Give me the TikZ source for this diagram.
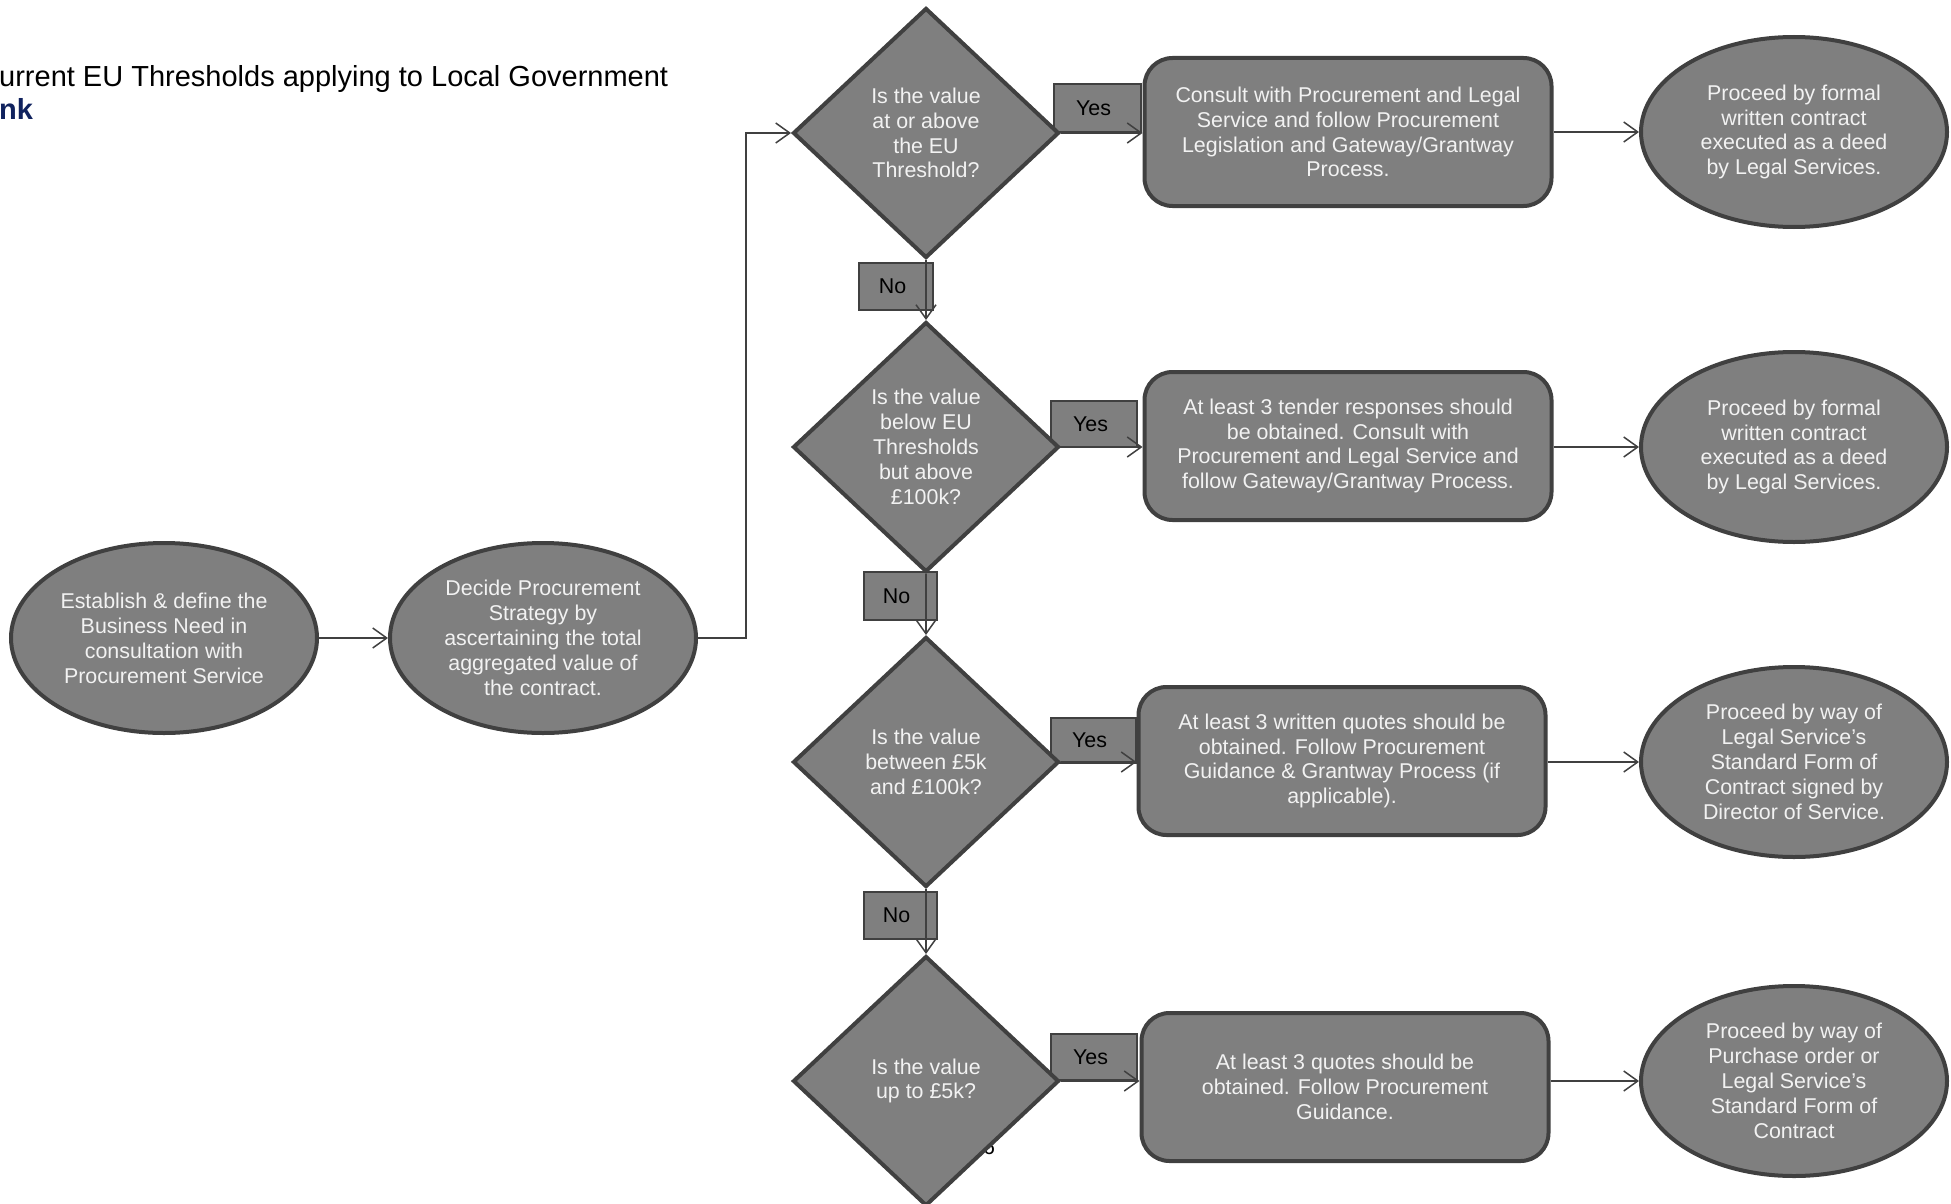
\documentclass[tikz,border=0pt]{standalone}
\usepackage{fontspec}
\setmainfont{Liberation Sans}
\usetikzlibrary{shapes.geometric,arrows.meta}
\definecolor{fillg}{HTML}{7F7F7F}
\definecolor{bord}{HTML}{404040}
\definecolor{txtw}{HTML}{F2F2F2}
\definecolor{navy}{HTML}{10225E}
\tikzset{
  base/.style={font=\fontsize{21.4}{24.9}\selectfont, text=txtw, fill=fillg, draw=bord, line width=4pt, align=center, inner sep=0pt},
  oval/.style={base, ellipse, minimum width=306pt, minimum height=190pt},
  dia/.style={base, diamond, minimum width=266pt, minimum height=250pt},
  rbox/.style={base, rectangle, rounded corners=28pt, minimum width=407pt, minimum height=148pt},
  tag/.style={draw=bord, fill=fillg, line width=2pt, font=\fontsize{21.4}{24.9}\selectfont, text=black, inner sep=0pt, align=center},
  arr/.style={draw=bord, line width=1.5pt, -{Straight Barb[length=14pt,width=20pt,line width=1.5pt]}}
}
\begin{document}
\begin{tikzpicture}[x=1pt,y=-1pt]
\useasboundingbox (0,0) rectangle (1951,1204);
\fill[white] (0,0) rectangle (1951,1204);
% title
\node[anchor=base west, inner sep=0pt, font=\fontsize{29}{33.6}\selectfont] (title) at (-1,87) {urrent EU Thresholds applying to Local Government};
\node[anchor=base west, inner sep=0pt, font=\fontsize{29}{33.6}\selectfont\bfseries, text=navy] (link) at (-1,120) {nk};
% page number (partly hidden)
\node[inner sep=0pt, font=\fontsize{21.4}{24.9}\selectfont] (pg) at (989,1147) {6};
% left ovals
\node[oval] (l1) at (164,638) {Establish \& define the\\Business Need in\\consultation with\\Procurement Service};
\node[oval] (l2) at (543,638) {Decide Procurement\\Strategy by\\ascertaining the total\\aggregated value of\\the contract.};
% tags
\node[tag, minimum width=87pt, minimum height=48pt] (y1) at (1097,108) {Yes\hspace*{7pt}};
\node[tag, minimum width=86pt, minimum height=46pt] (y2) at (1094,424) {Yes\hspace*{7pt}};
\node[tag, minimum width=85pt, minimum height=45pt] (y3) at (1093,740) {Yes\hspace*{7pt}};
\node[tag, minimum width=86pt, minimum height=46pt] (y4) at (1094,1057) {Yes\hspace*{7pt}};
\node[tag, minimum width=74pt, minimum height=47pt] (n1) at (896,286) {No\hspace*{7pt}};
\node[tag, minimum width=73pt, minimum height=48pt] (n2) at (900,596) {No\hspace*{7pt}};
\node[tag, minimum width=73pt, minimum height=47pt] (n3) at (900,915) {No\hspace*{7pt}};
% diamonds
\node[dia] (d1) at (926,133) {Is the value\\at or above\\the EU\\Threshold?};
\node[dia] (d2) at (926,447) {Is the value\\below EU\\Thresholds\\but above\\£100k?};
\node[dia] (d3) at (926,762) {Is the value\\between £5k\\and £100k?};
\node[dia] (d4) at (926,1081) {Is the value\\up to £5k?};
% boxes
\node[rbox] (r1) at (1348,132) {Consult with Procurement and Legal\\Service and follow Procurement\\Legislation and Gateway/Grantway\\Process.};
\node[rbox] (r2) at (1348,446) {At least 3 tender responses should\\be obtained. Consult with\\Procurement and Legal Service and\\follow Gateway/Grantway Process.};
\node[rbox] (r3) at (1342,761) {At least 3 written quotes should be\\obtained. Follow Procurement\\Guidance \& Grantway Process (if\\applicable).};
\node[rbox] (r4) at (1345,1087) {At least 3 quotes should be\\obtained. Follow Procurement\\Guidance.};
% right ovals
\node[oval] (e1) at (1794,132) {Proceed by formal\\written contract\\executed as a deed\\by Legal Services.};
\node[oval] (e2) at (1794,447) {Proceed by formal\\written contract\\executed as a deed\\by Legal Services.};
\node[oval] (e3) at (1794,762) {Proceed by way of\\Legal Service's\\Standard Form of\\Contract signed by\\Director of Service.};
\node[oval] (e4) at (1794,1081) {Proceed by way of\\Purchase order or\\Legal Service's\\Standard Form of\\Contract};
% connectors
\draw[arr] (l1.east) -- (l2.west);
\draw[arr] (l2.east) -- ++(48,0) |- (d1.west);
\draw[arr] (d1.east) -- (d1.east -| r1.west);
\draw[arr] (d2.east) -- (d2.east -| r2.west);
\draw[arr] (d3.east) -- (d3.east -| r3.west);
\draw[arr] (d4.east) -- (d4.east -| r4.west);
\draw[arr] (d1.south) -- (d2.north);
\draw[arr] (d2.south) -- (d3.north);
\draw[arr] (d3.south) -- (d4.north);
\draw[arr] (r1.east |- e1.west) -- (e1.west);
\draw[arr] (r2.east |- e2.west) -- (e2.west);
\draw[arr] (r3.east |- e3.west) -- (e3.west);
\draw[arr] (r4.east |- e4.west) -- (e4.west);
\end{tikzpicture}
\end{document}
